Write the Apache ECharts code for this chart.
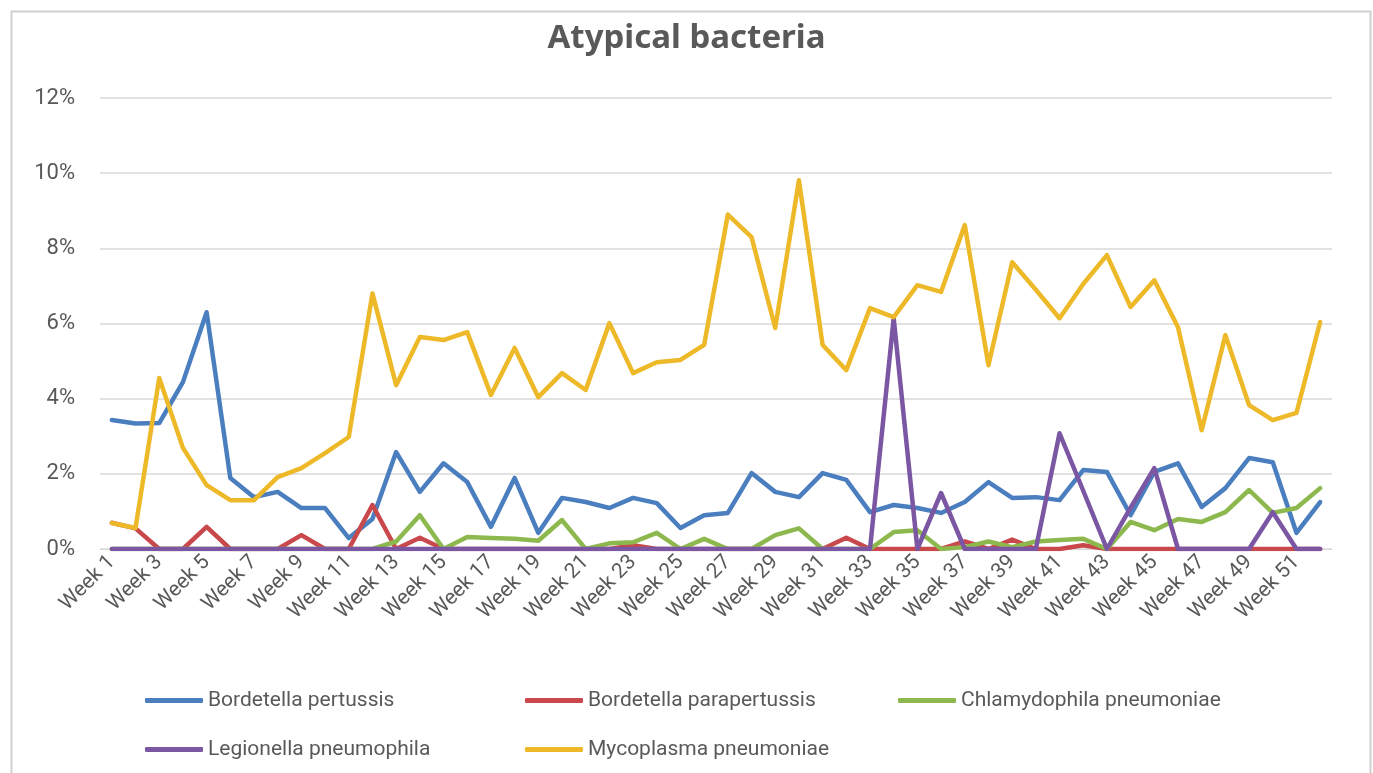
<!DOCTYPE html>
<html>
<head>
<meta charset="utf-8">
<script src="https://cdn.jsdelivr.net/npm/echarts@6/dist/echarts.min.js"></script>
<style>html,body{margin:0;padding:0;background:#fff}#c{width:1373px;height:773px}</style>
</head>
<body>
<div id="c"></div>
<script>
const weeks = [];
for (let i = 1; i <= 52; i++) weeks.push('Week ' + i);
const seriesNames = ['Bordetella pertussis','Bordetella parapertussis','Chlamydophila pneumoniae','Legionella pneumophila','Mycoplasma pneumoniae'];
const pertussis = [3.43,3.34,3.35,4.44,6.3,1.89,1.38,1.52,1.09,1.09,0.29,0.8,2.58,1.52,2.28,1.78,0.59,1.89,0.43,1.36,1.25,1.09,1.36,1.22,0.56,0.9,0.96,2.02,1.52,1.38,2.02,1.84,0.98,1.17,1.09,0.96,1.25,1.78,1.36,1.38,1.3,2.1,2.05,0.9,2.05,2.28,1.12,1.62,2.42,2.31,0.43,1.25];
const parapertussis = [0.7,0.55,0,0,0.59,0,0,0,0.37,0,0,1.17,0,0.3,0,0,0,0,0,0,0,0,0.1,0,0,0,0,0,0,0,0,0.3,0,0,0,0,0.2,0,0.25,0,0,0.1,0,0,0,0,0,0,0,0,0,0];
const chlamydophila = [0,0,0,0,0,0,0,0,0,0,0,0,0.2,0.9,0,0.32,0.29,0.27,0.22,0.77,0,0.15,0.18,0.43,0,0.27,0,0,0.37,0.55,0,0,0,0.45,0.5,0,0.05,0.2,0.05,0.2,0.24,0.27,0,0.72,0.5,0.8,0.72,0.98,1.57,0.96,1.09,1.62];
const legionella = [0,0,0,0,0,0,0,0,0,0,0,0,0,0,0,0,0,0,0,0,0,0,0,0,0,0,0,0,0,0,0,0,0,6.14,0,1.49,0,0,0,0,3.08,1.55,0,1.1,2.15,0,0,0,0,0.98,0,0];
const mycoplasma = [0.69,0.56,4.55,2.69,1.7,1.3,1.3,1.91,2.15,2.55,2.98,6.8,4.36,5.64,5.56,5.77,4.1,5.35,4.04,4.68,4.23,6.01,4.68,4.97,5.03,5.43,8.9,8.3,5.88,9.81,5.43,4.76,6.41,6.17,7.02,6.84,8.62,4.89,7.63,6.9,6.14,7.05,7.82,6.44,7.15,5.9,3.16,5.69,3.83,3.43,3.62,6.04];
const colors = ['#4A7EBF','#C8484B','#8DB84E','#7A56A3','#EDB928'];
const dataSets = [pertussis, parapertussis, chlamydophila, legionella, mycoplasma];
const legendPos = [[140,685],[520,685],[893,685],[140,734],[520,734]];

const chart = echarts.init(document.getElementById('c'));
chart.setOption({
  animation: false,
  color: colors,
  graphic: [{type:'rect', left: 9, top: 9, shape:{width:1359, height:800}, style:{fill:'none', stroke:'#d0d0d0', lineWidth:2}, silent:true}],
  title: {text:'Atypical bacteria', left:'center', top: 17, textStyle:{fontFamily:'Noto Sans', fontWeight:'bold', fontSize:33, color:'#595959'}},
  grid: {left:100, right:41, top:98, bottom:224},
  legend: seriesNames.map((n,i)=>({
    left: legendPos[i][0], top: legendPos[i][1], itemWidth: 58, itemHeight: 5, icon:'roundRect',
    textStyle:{fontFamily:'Roboto', fontSize:21, color:'#595959'},
    data:[n]
  })),
  xAxis: {
    type:'category', data: weeks, boundaryGap:true,
    axisLine:{lineStyle:{color:'#d9d9d9', width:1}},
    axisTick:{show:false},
    axisLabel:{interval:1, rotate:45, fontFamily:'Roboto', fontSize:21, color:'#595959', margin:10}
  },
  yAxis: {
    type:'value', min:0, max:12, interval:2,
    axisLabel:{formatter:'{value}%', fontFamily:'Roboto', fontSize:22, color:'#595959', margin:25},
    splitLine:{lineStyle:{color:'#d9d9d9', width:1.5}},
    axisLine:{show:false}, axisTick:{show:false}
  },
  series: seriesNames.map((n,i)=>({
    name:n, type:'line', data:dataSets[i], showSymbol:false, symbol:'none',
    lineStyle:{width:4.5, color:colors[i], join:'round', cap:'round'},
    itemStyle:{color:colors[i]}
  }))
});
</script>
</body>
</html>
